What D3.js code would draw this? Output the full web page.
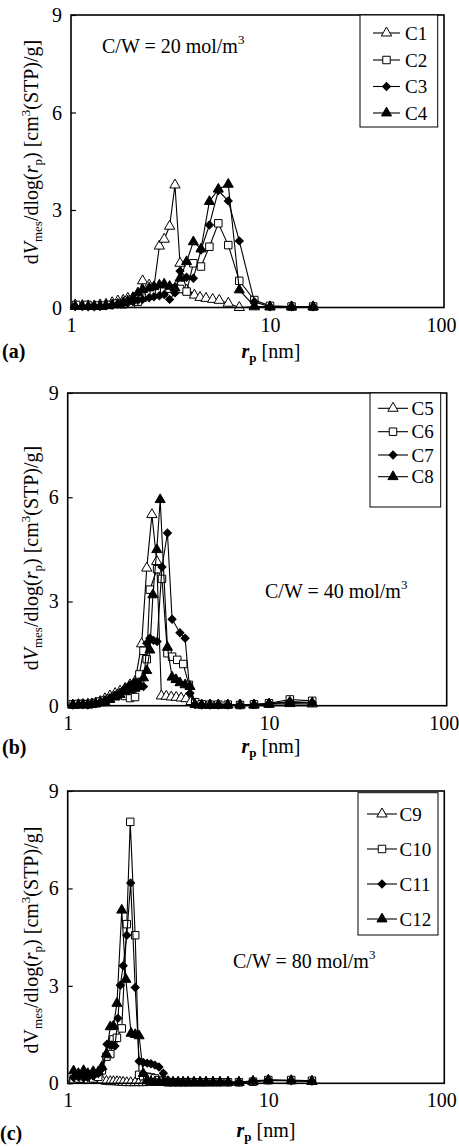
<!DOCTYPE html>
<html>
<head>
<meta charset="utf-8">
<script src="https://cdn.jsdelivr.net/npm/d3@7"></script>
<style>
  body { margin: 0; background: #fff; }
  svg { display: block; }
  text { font-family: "Liberation Serif", "Times New Roman", serif; fill: #000; }
</style>
</head>
<body>
<svg id="fig" width="459" height="1147"></svg>
<script>
// Pore size distributions, dV_mes/dlog(r_p) versus pore radius r_p [nm]

// ---- tick labels ----
const xTicks = [1, 10, 100];
const yTicks = [0, 3, 6, 9];

// ---- (a) C/W = 20 mol/m3 ----
const c1R = [1.05,1.14,1.22,1.31,1.40,1.50,1.61,1.72,1.83,1.93,2.05,2.17,2.29,2.47,2.61,2.78,2.94,3.13,3.33,3.53,3.81,4.17,4.45,4.77,5.15,5.56,6.17,7.01,8.34,10.0,13.3,17.7];
const c1V = [0.08,0.06,0.05,0.05,0.08,0.10,0.15,0.20,0.22,0.28,0.30,0.35,0.82,0.69,0.62,1.89,2.10,2.50,3.77,1.36,0.54,0.38,0.31,0.28,0.25,0.22,0.13,0.00,0.02,0.02,0.02,0.02];
const c2R = [1.06,1.21,1.35,1.45,1.57,1.71,1.83,2.00,2.17,2.29,2.47,2.61,2.78,2.94,3.13,3.33,3.53,3.81,4.12,4.50,4.96,5.50,6.17,7.01,8.34,10.0,13.3,17.7];
const c2V = [0.08,0.08,0.06,0.06,0.08,0.12,0.10,0.12,0.18,0.30,0.40,0.45,0.50,0.55,0.58,0.58,0.57,0.49,1.36,1.26,1.87,2.59,1.92,0.82,0.23,0.05,0.03,0.03];
const c3R = [1.05,1.14,1.22,1.31,1.40,1.50,1.61,1.72,1.83,1.93,2.05,2.17,2.29,2.47,2.61,2.78,2.94,3.13,3.33,3.53,3.81,4.12,4.50,4.96,5.50,6.17,7.01,8.34,10.0,13.3,17.7];
const c3V = [0.03,0.03,0.02,0.02,0.03,0.05,0.07,0.10,0.12,0.15,0.18,0.22,0.25,0.30,0.33,0.36,0.40,0.25,0.45,1.12,0.93,0.90,1.77,2.54,3.60,3.28,2.05,0.18,0.02,0.02,0.02];
const c4R = [1.05,1.14,1.22,1.31,1.40,1.50,1.61,1.72,1.83,1.93,2.05,2.17,2.29,2.47,2.61,2.78,2.94,3.13,3.33,3.53,3.81,4.12,4.50,4.96,5.50,6.17,7.01,8.34,10.0,13.3,17.7];
const c4V = [0.03,0.03,0.03,0.03,0.04,0.06,0.08,0.10,0.15,0.20,0.30,0.45,0.55,0.60,0.64,0.69,0.72,0.65,0.60,0.90,1.41,2.02,1.80,3.26,3.64,3.79,0.54,0.04,0.02,0.02,0.02];

// ---- (b) C/W = 40 mol/m3 ----
const c5R = [1.06,1.13,1.19,1.26,1.32,1.38,1.45,1.53,1.62,1.72,1.82,1.93,2.04,2.16,2.33,2.47,2.62,2.77,2.92,3.09,3.27,3.46,3.66,3.87,4.10,4.34,4.63,5.09,5.60,6.24,7.18,8.42,10.0,13.1,17.5];
const c5V = [0.02,0.03,0.03,0.04,0.05,0.08,0.12,0.20,0.28,0.35,0.42,0.50,0.60,0.70,1.78,3.96,5.50,4.15,0.28,0.27,0.25,0.24,0.22,0.20,0.12,0.05,0.02,0.02,0.02,0.02,0.02,0.02,0.04,0.06,0.05];
const c6R = [1.06,1.13,1.19,1.26,1.32,1.38,1.45,1.53,1.62,1.72,1.82,1.93,2.04,2.16,2.27,2.38,2.47,2.56,2.78,2.94,3.13,3.30,3.50,3.75,4.00,4.30,4.63,5.09,5.60,6.24,7.18,8.42,10.0,13.1,17.5];
const c6V = [0.04,0.05,0.05,0.04,0.06,0.08,0.12,0.15,0.20,0.28,0.32,0.28,0.22,0.25,0.90,1.58,1.34,3.34,3.93,3.65,1.51,1.41,1.32,1.20,0.60,0.10,0.04,0.03,0.03,0.03,0.02,0.04,0.07,0.18,0.14];
const c7R = [1.06,1.13,1.19,1.26,1.32,1.38,1.45,1.53,1.62,1.72,1.82,1.93,2.04,2.16,2.27,2.38,2.47,2.56,2.67,2.78,2.94,3.13,3.30,3.61,3.83,4.05,4.29,4.63,5.09,5.60,6.24,7.18,8.42,10.0,13.1,17.5];
const c7V = [0.02,0.03,0.03,0.02,0.04,0.06,0.10,0.15,0.22,0.30,0.38,0.50,0.60,0.68,0.62,0.55,1.80,1.94,1.88,1.85,3.99,4.97,2.49,2.10,1.94,0.36,0.03,0.02,0.02,0.02,0.02,0.02,0.03,0.06,0.12,0.09];
const c8R = [1.06,1.13,1.19,1.26,1.32,1.38,1.45,1.53,1.62,1.72,1.82,1.93,2.04,2.16,2.27,2.38,2.47,2.56,2.65,2.77,2.88,3.13,3.30,3.45,3.61,3.83,4.05,4.29,4.63,5.09,5.60,6.24,7.18,8.42,10.0,13.1,17.5];
const c8V = [0.02,0.02,0.03,0.03,0.04,0.05,0.08,0.12,0.18,0.25,0.32,0.40,0.45,0.50,0.55,0.80,1.01,1.60,3.19,4.49,5.93,1.68,0.82,0.75,0.66,0.60,0.55,0.03,0.02,0.02,0.02,0.02,0.02,0.02,0.05,0.10,0.08];

// ---- (c) C/W = 80 mol/m3 ----
const c9R = [1.07,1.13,1.20,1.26,1.34,1.42,1.48,1.56,1.63,1.69,1.76,1.82,1.89,1.97,2.06,2.17,2.27,2.38,2.49,2.60,2.72,2.85,3.00,3.16,3.35,3.55,3.76,3.98,4.26,4.57,4.89,5.30,5.74,6.30,7.14,8.39,10.0,13.5,17.7];
const c9V = [0.15,0.12,0.12,0.10,0.12,0.10,0.10,0.06,0.05,0.05,0.05,0.04,0.03,0.02,0.02,0.02,0.02,0.02,0.03,0.03,0.03,0.03,0.03,0.03,0.03,0.03,0.03,0.03,0.03,0.03,0.03,0.03,0.03,0.03,0.03,0.05,0.08,0.08,0.06];
const c10R = [1.07,1.13,1.20,1.26,1.34,1.42,1.48,1.56,1.63,1.69,1.76,1.86,1.97,2.05,2.17,2.27,2.38,2.49,2.60,2.72,2.85,3.00,3.16,3.35,3.55,3.76,3.98,4.26,4.57,4.89,5.30,5.74,6.30,7.14,8.39,10.0,13.5,17.7];
const c10V = [0.12,0.15,0.14,0.12,0.15,0.20,0.40,0.82,0.90,1.35,1.40,1.69,4.90,8.05,4.56,0.26,0.22,0.20,0.18,0.15,0.10,0.05,0.03,0.03,0.03,0.03,0.03,0.03,0.03,0.03,0.03,0.03,0.03,0.03,0.05,0.10,0.10,0.08];
const c11R = [1.07,1.13,1.20,1.26,1.34,1.42,1.48,1.57,1.62,1.66,1.72,1.78,1.83,1.89,1.97,2.06,2.17,2.27,2.38,2.49,2.60,2.72,2.85,3.00,3.16,3.35,3.55,3.76,3.98,4.26,4.57,4.89,5.30,5.74,6.30,7.14,8.39,10.0,13.5,17.7];
const c11V = [0.18,0.20,0.16,0.18,0.22,0.30,0.45,1.20,1.18,1.18,1.15,2.00,3.02,3.62,4.56,6.17,2.95,0.68,0.64,0.62,0.60,0.56,0.50,0.31,0.10,0.06,0.05,0.05,0.04,0.04,0.04,0.04,0.04,0.04,0.04,0.04,0.08,0.10,0.08,0.06];
const c12R = [1.07,1.13,1.20,1.26,1.34,1.42,1.48,1.56,1.63,1.69,1.76,1.86,1.95,2.07,2.17,2.27,2.38,2.49,2.60,2.72,2.85,3.00,3.16,3.35,3.55,3.76,3.98,4.26,4.57,4.89,5.30,5.74,6.30,7.14,8.39,10.0,13.5,17.7];
const c12V = [0.38,0.30,0.39,0.30,0.36,0.35,0.51,0.90,1.74,1.76,2.46,5.33,3.20,1.54,1.50,1.46,0.30,0.10,0.05,0.04,0.03,0.03,0.03,0.03,0.03,0.03,0.03,0.03,0.03,0.03,0.03,0.03,0.03,0.03,0.06,0.10,0.08,0.06];

// ---- marker styles (open triangle, open square, filled diamond, filled triangle) ----
const markers = [
  { type: d3.symbolTriangle, size: 46, fill: "#fff", rot: 0 },
  { type: d3.symbolSquare,   size: 56, fill: "#fff", rot: 0 },
  { type: d3.symbolSquare,   size: 32, fill: "#000", rot: 45 },
  { type: d3.symbolTriangle, size: 44, fill: "#000", rot: 0 }
];

const panels = [
  {
    tag: "(a)", cw: "20", italicV: true,
    box: { left: 71, right: 444, x10: 270, top: 15, bottom: 307.5 },
    series: [["C1", c1R, c1V], ["C2", c2R, c2V], ["C3", c3R, c3V], ["C4", c4R, c4V]],
    legend: { x0: 360, x1: 437.7, y0: 15, y1: 127, rows: [33, 60, 86.5, 113], lx0: 373, lx1: 400, tx: 405 },
    note: { x: 102, y: 53 },
    yLabelY: 152, xTitle: { x: 271, y: 358 }, tagPos: { x: 2, y: 358 }
  },
  {
    tag: "(b)", cw: "40", italicV: true,
    box: { left: 67.7, right: 446.7, x10: 269, top: 393, bottom: 705.7 },
    series: [["C5", c5R, c5V], ["C6", c6R, c6V], ["C7", c7R, c7V], ["C8", c8R, c8V]],
    legend: { x0: 370, x1: 440.7, y0: 393, y1: 507, rows: [408.3, 431.7, 455, 476.7], lx0: 378, lx1: 408, tx: 411.5 },
    note: { x: 265, y: 598 },
    yLabelY: 558, xTitle: { x: 271, y: 753 }, tagPos: { x: 2, y: 754 }
  },
  {
    tag: "(c)", cw: "80", italicV: false,
    box: { left: 67.7, right: 444.3, x10: 268.3, top: 791, bottom: 1083.3 },
    series: [["C9", c9R, c9V], ["C10", c10R, c10V], ["C11", c11R, c11V], ["C12", c12R, c12V]],
    legend: { x0: 358, x1: 438, y0: 792.7, y1: 935, rows: [814, 849, 884, 919], lx0: 367, lx1: 397, tx: 399.5 },
    note: { x: 233, y: 968 },
    yLabelY: 940, xTitle: { x: 266, y: 1137 }, tagPos: { x: 0, y: 1140 }
  }
];

const svg = d3.select("#fig");
svg.append("rect").attr("width", 459).attr("height", 1147).attr("fill", "#fff");

function marker(g, m, x, y) {
  g.append("path")
    .attr("d", d3.symbol().type(m.type).size(m.size)())
    .attr("transform", `translate(${x},${y}) rotate(${m.rot})`)
    .attr("fill", m.fill)
    .attr("stroke", "#000")
    .attr("stroke-width", 1);
}

panels.forEach(p => {
  const b = p.box;
  const x = d3.scaleLog().domain([1, 10, 100]).range([b.left, b.x10, b.right]);
  const y = d3.scaleLinear().domain([0, 9]).range([b.bottom, b.top]);
  const g = svg.append("g");

  // series: line then markers, later series drawn on top
  p.series.forEach(([name, rs, vs], i) => {
    const pts = rs.map((r, k) => [r, vs[k]]);
    g.append("path")
      .attr("d", d3.line().x(d => x(d[0])).y(d => y(d[1]))(pts))
      .attr("fill", "none").attr("stroke", "#000").attr("stroke-width", 1.1);
    pts.forEach(d => marker(g, markers[i], x(d[0]), y(d[1])));
  });

  // frame
  g.append("rect")
    .attr("x", b.left).attr("y", b.top)
    .attr("width", b.right - b.left).attr("height", b.bottom - b.top)
    .attr("fill", "none").attr("stroke", "#000").attr("stroke-width", 1.6);

  // y axis: inward ticks
  const yAxis = d3.axisRight(y).tickValues(yTicks).tickSize(5).tickFormat("");
  const ya = g.append("g").attr("transform", `translate(${b.left},0)`).call(yAxis);
  ya.select(".domain").remove();
  ya.selectAll("line").attr("stroke", "#000").attr("stroke-width", 1.2);
  yTicks.forEach(t => {
    g.append("text").attr("x", b.left - 9).attr("y", y(t) + 7)
      .attr("text-anchor", "end").attr("font-size", 20).text(t);
  });

  // x axis labels
  const xa = g.append("g").attr("transform", `translate(0,${b.bottom})`)
    .call(d3.axisBottom(x).tickValues(xTicks).tickSize(0).tickFormat(d3.format("d")));
  xa.select(".domain").remove();
  xa.selectAll("text").attr("font-size", 20).attr("dy", 0).attr("y", 24)
    .attr("dx", d => (d === 100 ? -3 : 0))
    .style("font-family", "'Liberation Serif', serif");

  // legend
  const L = p.legend;
  g.append("rect").attr("x", L.x0).attr("y", L.y0)
    .attr("width", L.x1 - L.x0).attr("height", L.y1 - L.y0)
    .attr("fill", "#fff").attr("stroke", "#000").attr("stroke-width", 1);
  p.series.forEach(([name], i) => {
    const ry = L.rows[i];
    g.append("line").attr("x1", L.lx0).attr("x2", L.lx1).attr("y1", ry).attr("y2", ry)
      .attr("stroke", "#000").attr("stroke-width", 1.1);
    marker(g, markers[i], (L.lx0 + L.lx1) / 2, ry);
    g.append("text").attr("x", L.tx).attr("y", ry + 6.5).attr("font-size", 19).text(name);
  });

  // C/W annotation
  const nt = g.append("text").attr("x", p.note.x).attr("y", p.note.y).attr("font-size", 20);
  nt.append("tspan").text(`C/W = ${p.cw} mol/m`);
  nt.append("tspan").attr("font-size", 13).attr("dy", -9).text("3");

  // y axis title
  const yl = g.append("text")
    .attr("transform", `translate(38,${p.yLabelY}) rotate(-90)`)
    .attr("text-anchor", "middle").attr("font-size", 20);
  yl.append("tspan").text("d");
  yl.append("tspan").attr("font-style", p.italicV ? "italic" : "normal").text("V");
  yl.append("tspan").attr("font-size", 13).attr("dy", 4).text("mes");
  yl.append("tspan").attr("dy", -4).text("/dlog(");
  yl.append("tspan").attr("font-style", "italic").text("r");
  yl.append("tspan").attr("font-size", 13).attr("dy", 4).text("p");
  yl.append("tspan").attr("dy", -4).text(") [cm");
  yl.append("tspan").attr("font-size", 13).attr("dy", -8).text("3");
  yl.append("tspan").attr("dy", 8).text("(STP)/g]");

  // x axis title
  const xt = g.append("text").attr("x", p.xTitle.x).attr("y", p.xTitle.y)
    .attr("text-anchor", "middle").attr("font-size", 20);
  xt.append("tspan").attr("font-style", "italic").attr("font-weight", "bold").text("r");
  xt.append("tspan").attr("font-weight", "bold").attr("font-size", 13).attr("dy", 4).text("p");
  xt.append("tspan").attr("dy", -4).text(" [nm]");

  // panel tag
  g.append("text").attr("x", p.tagPos.x).attr("y", p.tagPos.y)
    .attr("font-size", 20).attr("font-weight", "bold").text(p.tag);
});
</script>
</body>
</html>
